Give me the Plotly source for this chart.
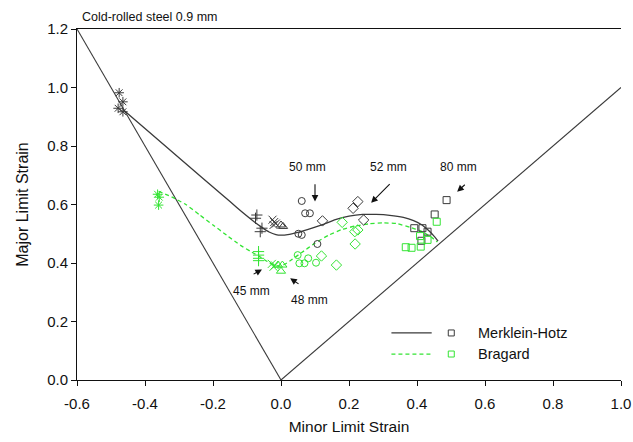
import plotly.graph_objects as go

# ---------------- data ----------------
x_ticks = [-0.6, -0.4, -0.2, 0.0, 0.2, 0.4, 0.6, 0.8, 1.0]
x_tick_labels = ["-0.6", "-0.4", "-0.2", "0.0", "0.2", "0.4", "0.6", "0.8", "1.0"]
y_ticks = [0.0, 0.2, 0.4, 0.6, 0.8, 1.0, 1.2]
y_tick_labels = ["0.0", "0.2", "0.4", "0.6", "0.8", "1.0", "1.2"]

# boundary lines (pure shear / equibiaxial reference)
v_left_x = [-0.6, 0.0]
v_left_y = [1.2, 0.0]
v_right_x = [0.0, 1.0]
v_right_y = [0.0, 1.0]

# Merklein-Hotz FLC
mh_x = [-0.465, -0.40, -0.33, -0.26, -0.20, -0.15, -0.11, -0.08, -0.055, -0.035, -0.015, 0.0,
        0.02, 0.05, 0.08, 0.12, 0.16, 0.20, 0.24, 0.28, 0.32, 0.36, 0.39, 0.415, 0.435, 0.45, 0.462]
mh_y = [0.925, 0.86, 0.79, 0.72, 0.66, 0.61, 0.57, 0.542, 0.521, 0.506, 0.497, 0.495,
        0.497, 0.505, 0.515, 0.53, 0.548, 0.56, 0.566, 0.566, 0.563, 0.556, 0.545, 0.53, 0.51, 0.492, 0.475]

# Bragard FLC
br_x = [-0.36, -0.32, -0.28, -0.24, -0.20, -0.16, -0.12, -0.09, -0.06, -0.04, -0.02, -0.005,
        0.01, 0.03, 0.06, 0.10, 0.14, 0.18, 0.22, 0.26, 0.30, 0.34, 0.38, 0.41, 0.44, 0.46]
br_y = [0.645, 0.625, 0.60, 0.565, 0.53, 0.495, 0.461, 0.44, 0.42, 0.405, 0.393, 0.39,
        0.395, 0.41, 0.435, 0.468, 0.495, 0.515, 0.527, 0.534, 0.537, 0.535, 0.522, 0.51, 0.49, 0.472]

# Merklein-Hotz measured points (black)
mh_star_x = [-0.476, -0.465, -0.479, -0.465]
mh_star_y = [0.982, 0.951, 0.929, 0.917]
mh_plus_x = [-0.071, -0.075, -0.056, -0.061]
mh_plus_y = [0.564, 0.553, 0.519, 0.507]
mh_xmark_x = [-0.025, -0.02, -0.015, -0.022]
mh_xmark_y = [0.548, 0.54, 0.535, 0.53]
mh_tri_x = [0.0, 0.006]
mh_tri_y = [0.53, 0.525]
mh_circ_x = [0.061, 0.071, 0.085, 0.051, 0.061, 0.107]
mh_circ_y = [0.612, 0.570, 0.570, 0.50, 0.496, 0.465]
mh_diam_x = [0.122, 0.212, 0.226, 0.243]
mh_diam_y = [0.544, 0.587, 0.61, 0.547]
mh_sq_x = [0.487, 0.452, 0.392, 0.416, 0.431, 0.413]
mh_sq_y = [0.615, 0.566, 0.519, 0.519, 0.507, 0.476]

# Bragard measured points (green)
br_star_x = [-0.363, -0.358, -0.36]
br_star_y = [0.635, 0.625, 0.598]
br_plus_x = [-0.066, -0.066, -0.066, -0.066]
br_plus_y = [0.439, 0.427, 0.416, 0.408]
br_xmark_x = [-0.027, -0.022, -0.018]
br_xmark_y = [0.397, 0.387, 0.392]
br_tri_x = [-0.009, 0.004, 0.0]
br_tri_y = [0.393, 0.393, 0.372]
br_circ_x = [0.049, 0.054, 0.069, 0.080, 0.103]
br_circ_y = [0.427, 0.399, 0.399, 0.416, 0.401]
br_diam_x = [0.119, 0.163, 0.180, 0.217, 0.226, 0.218]
br_diam_y = [0.424, 0.393, 0.539, 0.507, 0.513, 0.465]
br_sq_x = [0.458, 0.409, 0.431, 0.367, 0.384, 0.411]
br_sq_y = [0.541, 0.492, 0.479, 0.454, 0.452, 0.456]

# blank-width labels with arrows: text, text position, arrow tail, arrow head
lbl_text = ["50 mm", "52 mm", "80 mm", "45 mm", "48 mm"]
lbl_x = [0.078, 0.317, 0.521, -0.086, 0.083]
lbl_y = [0.728, 0.728, 0.728, 0.305, 0.272]
arr_tail_x = [0.100, 0.324, 0.545, -0.085, 0.056]
arr_tail_y = [0.674, 0.675, 0.672, 0.359, 0.325]
arr_head_x = [0.100, 0.265, 0.518, -0.056, 0.027]
arr_head_y = [0.610, 0.606, 0.644, 0.378, 0.348]

legend_names = ["Merklein-Hotz", "Bragard"]

# ---------------- styling ----------------
FONT = "Liberation Sans, Arial, sans-serif"
BLACK = "#3a3a3a"
GREEN = "#33e433"

fig = go.Figure()

fig.add_trace(go.Scatter(x=v_left_x, y=v_left_y, mode="lines",
                         line=dict(color=BLACK, width=1.1), showlegend=False))
fig.add_trace(go.Scatter(x=v_right_x, y=v_right_y, mode="lines",
                         line=dict(color=BLACK, width=1.1), showlegend=False))
fig.add_trace(go.Scatter(x=mh_x, y=mh_y, mode="lines",
                         line=dict(color=BLACK, width=1.3, shape="spline", smoothing=0.4),
                         showlegend=False))
fig.add_trace(go.Scatter(x=br_x, y=br_y, mode="lines",
                         line=dict(color=GREEN, width=1.3, dash="4px,3px", shape="spline", smoothing=0.4),
                         showlegend=False))

def pts(xs, ys, sym, color, size=7):
    fig.add_trace(go.Scatter(x=xs, y=ys, mode="markers", showlegend=False,
                             marker=dict(symbol=sym, size=size, color=color,
                                         line=dict(color=color, width=1))))

pts(mh_star_x, mh_star_y, "asterisk-open", BLACK, 8)
pts(mh_plus_x, mh_plus_y, "cross-thin-open", BLACK, 8)
pts(mh_xmark_x, mh_xmark_y, "x-thin-open", BLACK, 8)
pts(mh_tri_x, mh_tri_y, "triangle-up-open", BLACK, 8)
pts(mh_circ_x, mh_circ_y, "circle-open", BLACK, 7)
pts(mh_diam_x, mh_diam_y, "diamond-open", BLACK, 8)
pts(mh_sq_x, mh_sq_y, "square-open", BLACK, 7)

pts(br_star_x, br_star_y, "asterisk-open", GREEN, 8)
pts(br_plus_x, br_plus_y, "cross-thin-open", GREEN, 8)
pts(br_xmark_x, br_xmark_y, "x-thin-open", GREEN, 8)
pts(br_tri_x, br_tri_y, "triangle-up-open", GREEN, 8)
pts(br_circ_x, br_circ_y, "circle-open", GREEN, 7)
pts(br_diam_x, br_diam_y, "diamond-open", GREEN, 8)
pts(br_sq_x, br_sq_y, "square-open", GREEN, 7)

annotations = []
for t, lx, ly in zip(lbl_text, lbl_x, lbl_y):
    annotations.append(dict(x=lx, y=ly, xref="x", yref="y", text=t, showarrow=False,
                            font=dict(family=FONT, size=12, color="#111")))
for tx, ty, hx, hy in zip(arr_tail_x, arr_tail_y, arr_head_x, arr_head_y):
    annotations.append(dict(x=hx, y=hy, ax=tx, ay=ty, xref="x", yref="y",
                            axref="x", ayref="y", text="", showarrow=True,
                            arrowhead=2, arrowsize=1.2, arrowwidth=1.1, arrowcolor="#111"))

# title
annotations.append(dict(x=0.005, y=1, xref="paper", yref="paper", xanchor="left",
                        yanchor="bottom", yshift=3, text="Cold-rolled steel 0.9 mm",
                        showarrow=False, font=dict(family=FONT, size=12.5, color="#111")))

# manual legend (line sample, small marker, label)
shapes = []
leg_rows_y = [0.134, 0.074]
leg_cols = dict(line0=0.578, line1=0.652, mark=0.688, text=0.734)
for name, ry, col, dash in zip(legend_names, leg_rows_y, [BLACK, GREEN], ["solid", "4px,3px"]):
    shapes.append(dict(type="line", xref="paper", yref="paper",
                       x0=leg_cols["line0"], x1=leg_cols["line1"], y0=ry, y1=ry,
                       line=dict(color=col, width=1.3, dash=dash)))
    shapes.append(dict(type="rect", xref="paper", yref="paper",
                       xsizemode="pixel", ysizemode="pixel",
                       xanchor=leg_cols["mark"], yanchor=ry,
                       x0=-3, x1=3, y0=-3, y1=3, line=dict(color=col, width=1)))
    annotations.append(dict(x=leg_cols["text"], y=ry, xref="paper", yref="paper",
                            xanchor="left", yanchor="middle", text=name, showarrow=False,
                            font=dict(family=FONT, size=14.5, color="#111")))

fig.update_layout(
    width=633, height=442,
    margin=dict(l=77, r=12, t=29, b=62),
    paper_bgcolor="white", plot_bgcolor="white",
    font=dict(family=FONT, size=14, color="#111"),
    annotations=annotations, shapes=shapes,
    showlegend=False,
)
fig.update_xaxes(range=[-0.6, 1.0], tickvals=x_ticks, ticktext=x_tick_labels,
                 showgrid=False, zeroline=False, showline=True, linecolor="#111",
                 linewidth=1, mirror=True, ticks="outside", ticklen=5, tickcolor="#111",
                 tickfont=dict(family=FONT, size=15), ticklabelstandoff=5,
                 title=dict(text="Minor Limit Strain", font=dict(family=FONT, size=15.5), standoff=10),
                 automargin=False)
fig.update_yaxes(range=[0.0, 1.2], tickvals=y_ticks, ticktext=y_tick_labels,
                 showgrid=False, zeroline=False, showline=True, linecolor="#111",
                 linewidth=1, ticks="outside", ticklen=5, tickcolor="#111",
                 tickfont=dict(family=FONT, size=15),
                 title=dict(text="Major Limit Strain", font=dict(family=FONT, size=16), standoff=14),
                 automargin=False)

fig.write_html("out.html")
